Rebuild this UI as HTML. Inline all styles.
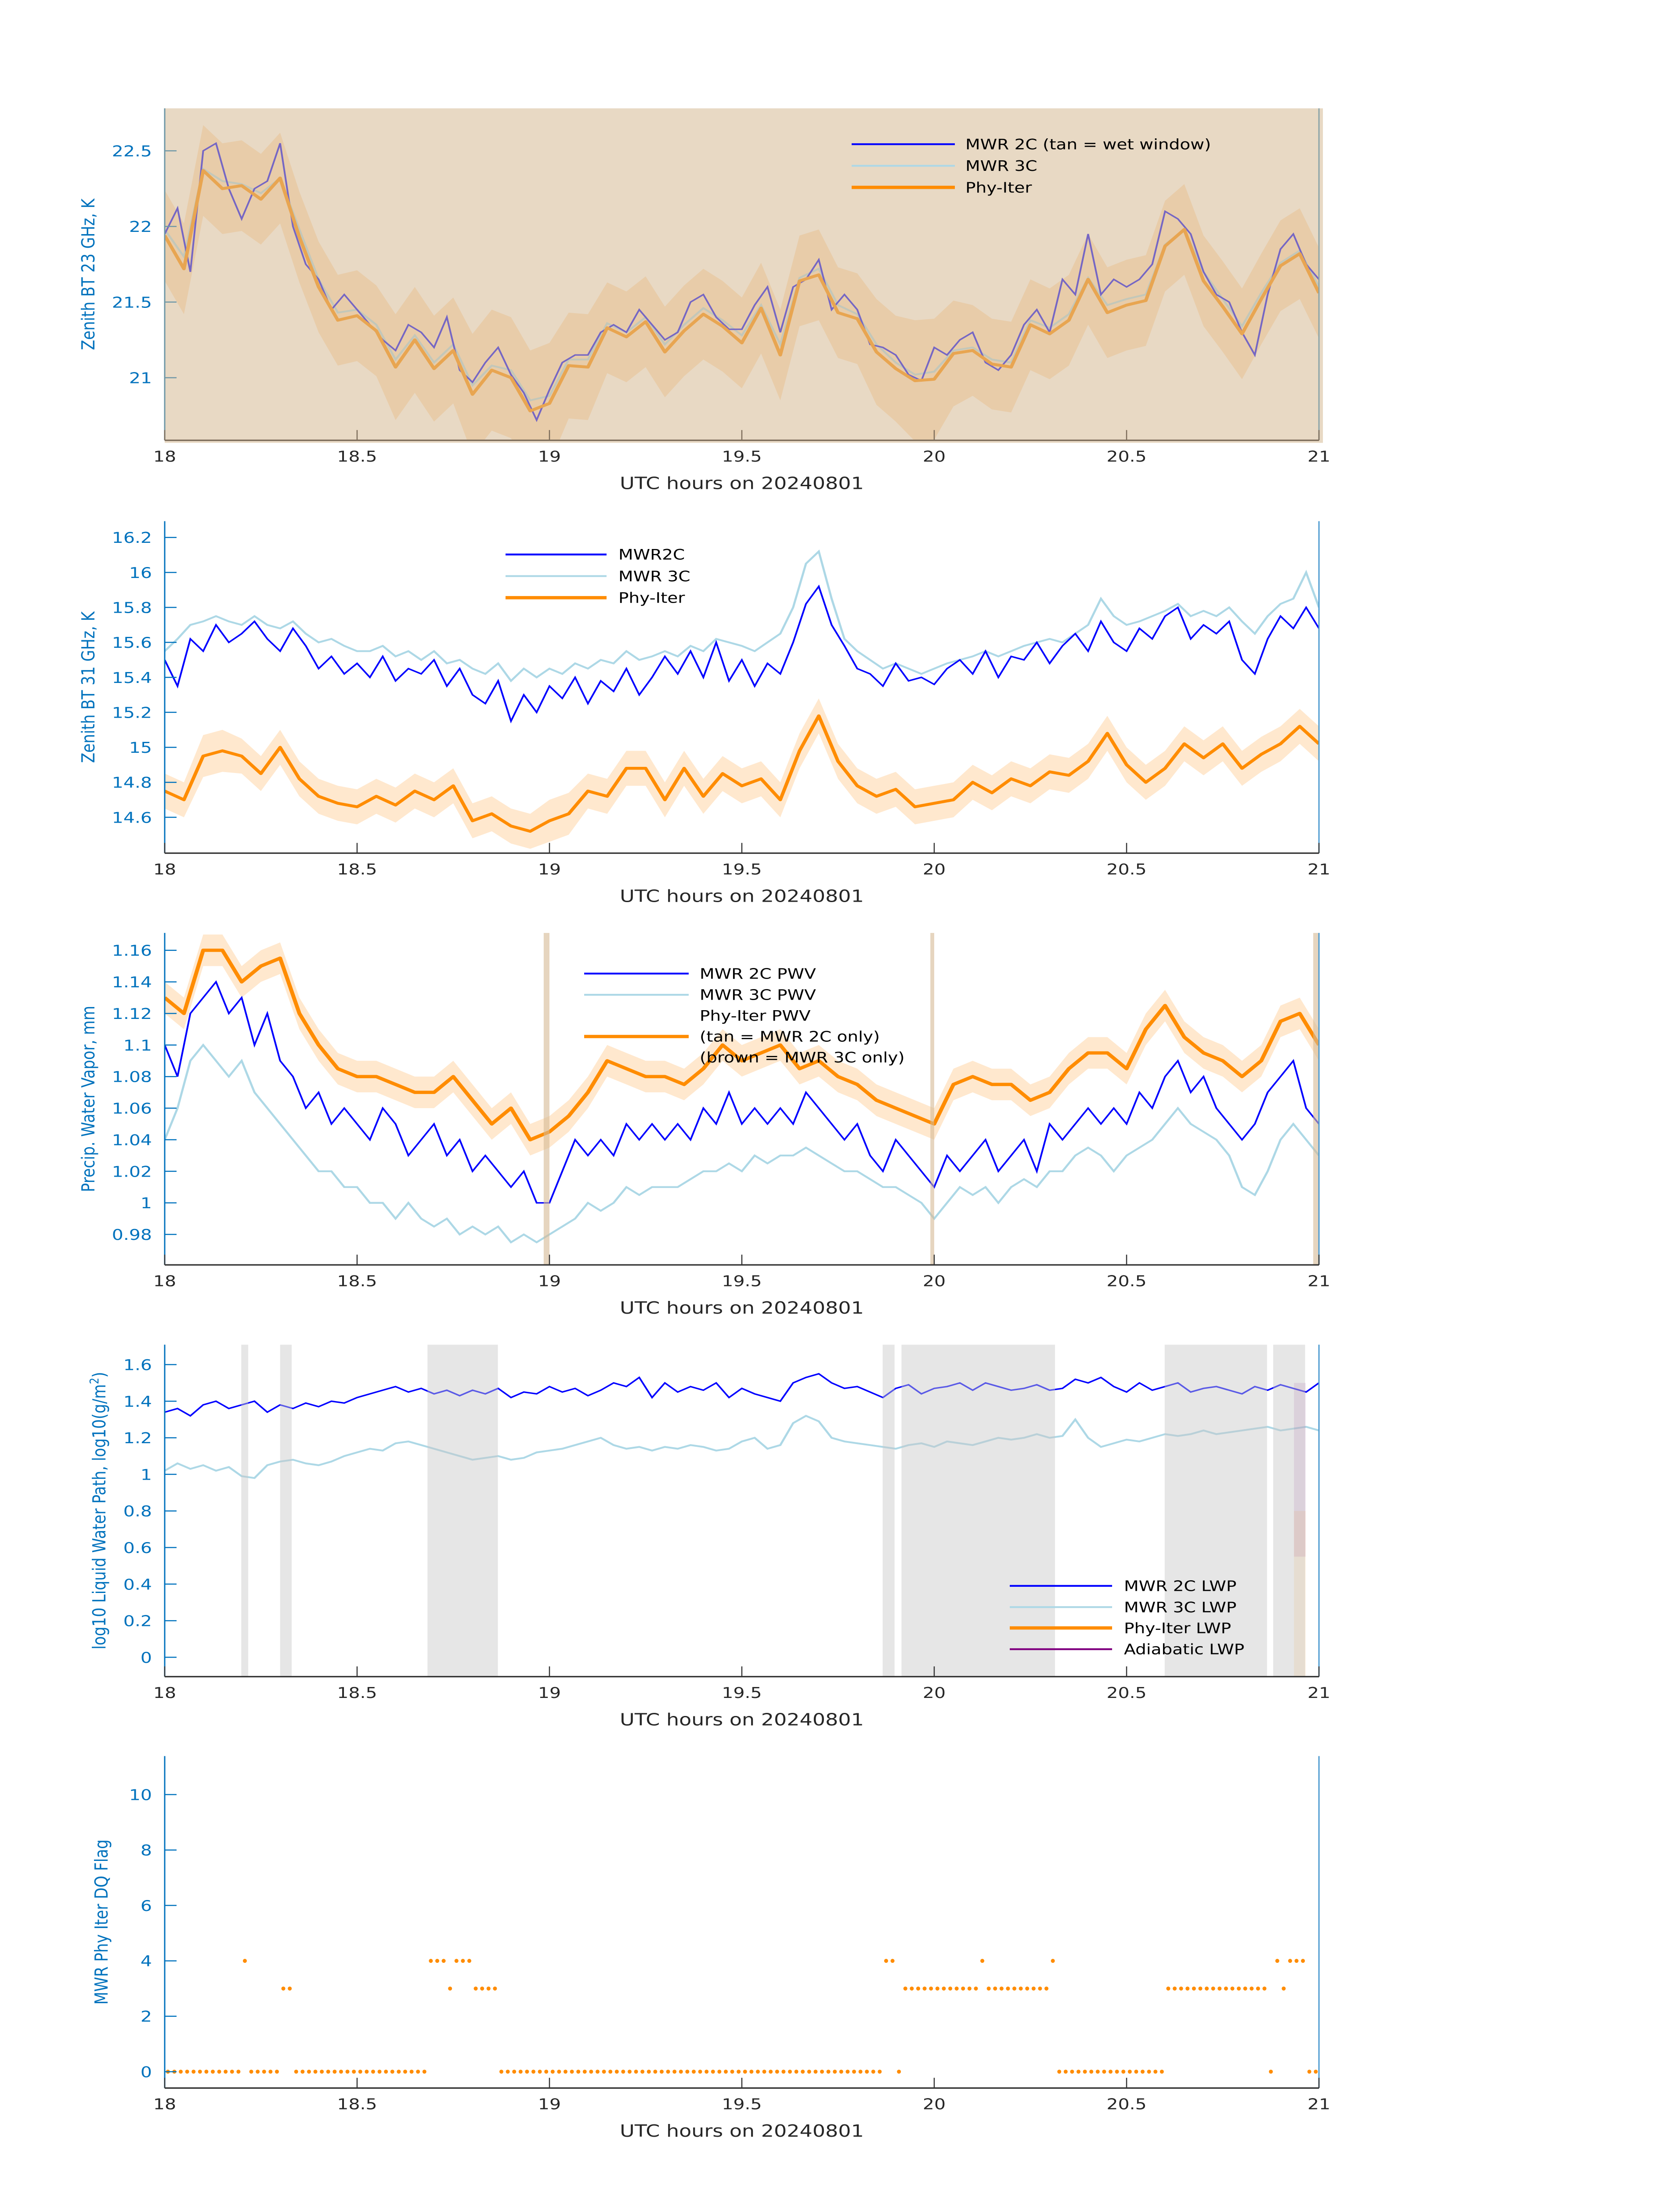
<!DOCTYPE html>
<html><head><meta charset="utf-8"><style>html,body{margin:0;padding:0;background:#fff;width:100%;height:100%;overflow:hidden}svg{display:block;position:absolute;left:0;top:0;width:100vw;height:100vh}</style></head>
<body>
<svg id="fig" xmlns="http://www.w3.org/2000/svg" viewBox="0 0 3825 6000" preserveAspectRatio="none" font-family="'DejaVu Sans','Liberation Sans',sans-serif"></svg>
<script>
// ---------- data ----------
const xTicks = [18, 18.5, 19, 19.5, 20, 20.5, 21];
const p1Ticks = [21, 21.5, 22, 22.5];
const p2Ticks = [14.6, 14.8, 15, 15.2, 15.4, 15.6, 15.8, 16, 16.2];
const p3Ticks = [0.98, 1, 1.02, 1.04, 1.06, 1.08, 1.1, 1.12, 1.14, 1.16];
const p4Ticks = [0, 0.2, 0.4, 0.6, 0.8, 1, 1.2, 1.4, 1.6];
const p5Ticks = [0, 2, 4, 6, 8, 10];

const p1Phy = [21.94,21.72,22.37,22.25,22.27,22.18,22.32,21.93,21.60,21.38,21.41,21.31,21.07,21.25,21.06,21.18,20.89,21.05,21.0,20.78,20.83,21.08,21.07,21.33,21.27,21.37,21.17,21.31,21.42,21.34,21.23,21.46,21.15,21.64,21.68,21.43,21.39,21.17,21.06,20.98,20.99,21.16,21.18,21.09,21.07,21.35,21.29,21.38,21.65,21.43,21.48,21.51,21.87,21.98,21.64,21.47,21.29,21.52,21.74,21.82,21.56];
const p1Unc = [0.3,0.3,0.3,0.3,0.3,0.3,0.3,0.3,0.3,0.3,0.3,0.3,0.35,0.35,0.35,0.35,0.4,0.4,0.4,0.4,0.4,0.35,0.35,0.3,0.3,0.3,0.3,0.3,0.3,0.3,0.3,0.3,0.3,0.3,0.3,0.3,0.3,0.35,0.35,0.4,0.4,0.35,0.3,0.3,0.3,0.3,0.3,0.3,0.3,0.3,0.3,0.3,0.3,0.3,0.3,0.3,0.3,0.3,0.3,0.3,0.3];
const p1Mwr2c = [21.95,22.12,21.70,22.50,22.55,22.25,22.05,22.25,22.30,22.55,22.0,21.75,21.65,21.45,21.55,21.45,21.35,21.25,21.18,21.35,21.30,21.20,21.40,21.05,20.97,21.10,21.20,21.02,20.90,20.72,20.92,21.10,21.15,21.15,21.30,21.35,21.30,21.45,21.35,21.25,21.30,21.50,21.55,21.40,21.32,21.32,21.48,21.60,21.30,21.60,21.65,21.78,21.45,21.55,21.45,21.22,21.20,21.15,21.02,20.98,21.20,21.15,21.25,21.30,21.10,21.05,21.15,21.35,21.45,21.30,21.65,21.55,21.95,21.55,21.65,21.60,21.65,21.75,22.10,22.05,21.95,21.70,21.55,21.50,21.30,21.15,21.55,21.85,21.95,21.75,21.65];
const p1Mwr3c = [21.98,21.80,22.38,22.30,22.28,22.22,22.32,21.98,21.65,21.43,21.45,21.35,21.12,21.28,21.10,21.22,20.95,21.08,21.05,20.85,20.88,21.12,21.12,21.36,21.30,21.40,21.22,21.35,21.46,21.38,21.28,21.48,21.22,21.66,21.72,21.48,21.42,21.22,21.10,21.02,21.04,21.18,21.20,21.12,21.10,21.38,21.33,21.42,21.66,21.48,21.52,21.55,21.88,21.98,21.70,21.52,21.34,21.56,21.76,21.84,21.60];

const p2Phy = [14.75,14.70,14.95,14.98,14.95,14.85,15.0,14.82,14.72,14.68,14.66,14.72,14.67,14.75,14.70,14.78,14.58,14.62,14.55,14.52,14.58,14.62,14.75,14.72,14.88,14.88,14.70,14.88,14.72,14.85,14.78,14.82,14.70,14.98,15.18,14.92,14.78,14.72,14.76,14.66,14.68,14.70,14.80,14.74,14.82,14.78,14.86,14.84,14.92,15.08,14.90,14.80,14.88,15.02,14.94,15.02,14.88,14.96,15.02,15.12,15.02];
const p2Unc = [0.1,0.1,0.12,0.12,0.1,0.1,0.1,0.1,0.1,0.1,0.1,0.1,0.1,0.1,0.1,0.1,0.1,0.1,0.1,0.1,0.12,0.12,0.1,0.1,0.1,0.1,0.1,0.1,0.1,0.1,0.1,0.1,0.1,0.1,0.1,0.1,0.1,0.1,0.1,0.1,0.1,0.1,0.1,0.1,0.1,0.1,0.1,0.1,0.1,0.1,0.1,0.1,0.1,0.1,0.1,0.1,0.1,0.1,0.1,0.1,0.1];
const p2Mwr2c = [15.5,15.35,15.62,15.55,15.7,15.6,15.65,15.72,15.62,15.55,15.68,15.58,15.45,15.52,15.42,15.48,15.4,15.52,15.38,15.45,15.42,15.5,15.35,15.45,15.3,15.25,15.38,15.15,15.3,15.2,15.35,15.28,15.4,15.25,15.38,15.32,15.45,15.3,15.4,15.52,15.42,15.55,15.4,15.6,15.38,15.5,15.35,15.48,15.42,15.6,15.82,15.92,15.7,15.58,15.45,15.42,15.35,15.48,15.38,15.4,15.36,15.45,15.5,15.42,15.55,15.4,15.52,15.5,15.6,15.48,15.58,15.65,15.55,15.72,15.6,15.55,15.68,15.62,15.75,15.8,15.62,15.7,15.65,15.72,15.5,15.42,15.62,15.75,15.68,15.8,15.68];
const p2Mwr3c = [15.55,15.62,15.7,15.72,15.75,15.72,15.7,15.75,15.7,15.68,15.72,15.65,15.6,15.62,15.58,15.55,15.55,15.58,15.52,15.55,15.5,15.55,15.48,15.5,15.45,15.42,15.48,15.38,15.45,15.4,15.45,15.42,15.48,15.45,15.5,15.48,15.55,15.5,15.52,15.55,15.52,15.58,15.55,15.62,15.6,15.58,15.55,15.6,15.65,15.8,16.05,16.12,15.85,15.62,15.55,15.5,15.45,15.48,15.45,15.42,15.45,15.48,15.5,15.52,15.55,15.52,15.55,15.58,15.6,15.62,15.6,15.65,15.7,15.85,15.75,15.7,15.72,15.75,15.78,15.82,15.75,15.78,15.75,15.8,15.72,15.65,15.75,15.82,15.85,16.0,15.8];

const p3Phy = [1.13,1.12,1.16,1.16,1.14,1.15,1.155,1.12,1.10,1.085,1.08,1.08,1.075,1.07,1.07,1.08,1.065,1.05,1.06,1.04,1.045,1.055,1.07,1.09,1.085,1.08,1.08,1.075,1.085,1.10,1.09,1.095,1.10,1.085,1.09,1.08,1.075,1.065,1.06,1.055,1.05,1.075,1.08,1.075,1.075,1.065,1.07,1.085,1.095,1.095,1.085,1.11,1.125,1.105,1.095,1.09,1.08,1.09,1.115,1.12,1.10];
const p3Unc = [0.01,0.01,0.01,0.01,0.01,0.01,0.01,0.01,0.01,0.01,0.01,0.01,0.01,0.01,0.01,0.01,0.01,0.01,0.01,0.01,0.01,0.01,0.01,0.01,0.01,0.01,0.01,0.01,0.01,0.01,0.01,0.01,0.01,0.01,0.01,0.01,0.01,0.01,0.01,0.01,0.01,0.01,0.01,0.01,0.01,0.01,0.01,0.01,0.01,0.01,0.01,0.01,0.01,0.01,0.01,0.01,0.01,0.01,0.01,0.01,0.01];
const p3Mwr2c = [1.10,1.08,1.12,1.13,1.14,1.12,1.13,1.10,1.12,1.09,1.08,1.06,1.07,1.05,1.06,1.05,1.04,1.06,1.05,1.03,1.04,1.05,1.03,1.04,1.02,1.03,1.02,1.01,1.02,1.0,1.0,1.02,1.04,1.03,1.04,1.03,1.05,1.04,1.05,1.04,1.05,1.04,1.06,1.05,1.07,1.05,1.06,1.05,1.06,1.05,1.07,1.06,1.05,1.04,1.05,1.03,1.02,1.04,1.03,1.02,1.01,1.03,1.02,1.03,1.04,1.02,1.03,1.04,1.02,1.05,1.04,1.05,1.06,1.05,1.06,1.05,1.07,1.06,1.08,1.09,1.07,1.08,1.06,1.05,1.04,1.05,1.07,1.08,1.09,1.06,1.05];
const p3Mwr3c = [1.04,1.06,1.09,1.10,1.09,1.08,1.09,1.07,1.06,1.05,1.04,1.03,1.02,1.02,1.01,1.01,1.00,1.0,0.99,1.0,0.99,0.985,0.99,0.98,0.985,0.98,0.985,0.975,0.98,0.975,0.98,0.985,0.99,1.0,0.995,1.0,1.01,1.005,1.01,1.01,1.01,1.015,1.02,1.02,1.025,1.02,1.03,1.025,1.03,1.03,1.035,1.03,1.025,1.02,1.02,1.015,1.01,1.01,1.005,1.0,0.99,1.0,1.01,1.005,1.01,1.0,1.01,1.015,1.01,1.02,1.02,1.03,1.035,1.03,1.02,1.03,1.035,1.04,1.05,1.06,1.05,1.045,1.04,1.03,1.01,1.005,1.02,1.04,1.05,1.04,1.03];
const p3TanStart = [18.985, 19.99, 20.985];
const p3TanEnd = [19.0, 20.0, 21.0];

const p4Mwr2c = [1.34,1.36,1.32,1.38,1.40,1.36,1.38,1.40,1.34,1.38,1.36,1.39,1.37,1.40,1.39,1.42,1.44,1.46,1.48,1.45,1.47,1.44,1.46,1.43,1.46,1.44,1.47,1.42,1.45,1.44,1.48,1.45,1.47,1.43,1.46,1.50,1.48,1.53,1.42,1.50,1.45,1.48,1.46,1.50,1.42,1.47,1.44,1.42,1.40,1.50,1.53,1.55,1.50,1.47,1.48,1.45,1.42,1.47,1.49,1.44,1.47,1.48,1.50,1.46,1.50,1.48,1.46,1.47,1.49,1.46,1.47,1.52,1.50,1.53,1.48,1.45,1.50,1.46,1.48,1.50,1.45,1.47,1.48,1.46,1.44,1.48,1.46,1.49,1.47,1.45,1.50];
const p4Mwr3c = [1.02,1.06,1.03,1.05,1.02,1.04,0.99,0.98,1.05,1.07,1.08,1.06,1.05,1.07,1.10,1.12,1.14,1.13,1.17,1.18,1.16,1.14,1.12,1.10,1.08,1.09,1.10,1.08,1.09,1.12,1.13,1.14,1.16,1.18,1.20,1.16,1.14,1.15,1.13,1.15,1.14,1.16,1.15,1.13,1.14,1.18,1.20,1.14,1.16,1.28,1.32,1.29,1.20,1.18,1.17,1.16,1.15,1.14,1.16,1.17,1.15,1.18,1.17,1.16,1.18,1.20,1.19,1.20,1.22,1.20,1.21,1.30,1.20,1.15,1.17,1.19,1.18,1.20,1.22,1.21,1.22,1.24,1.22,1.23,1.24,1.25,1.26,1.24,1.25,1.26,1.24];
const p4ShadeStart = [18.199, 18.30, 18.683, 19.866, 19.915, 20.599, 20.881];
const p4ShadeEnd = [18.217, 18.33, 18.866, 19.897, 20.314, 20.865, 20.964];

const dqFlag = [0,0,0,0,0,0,0,0,0,0,0,0,4,0,0,0,0,0,3,3,0,0,0,0,0,0,0,0,0,0,0,0,0,0,0,0,0,0,0,0,0,4,4,4,3,4,4,4,3,3,3,3,
0,0,0,0,0,0,0,0,0,0,0,0,0,0,0,0,0,0,0,0,0,0,0,0,0,0,0,0,0,0,0,0,0,0,0,0,0,0,0,0,0,0,0,0,0,0,0,0,0,0,0,0,0,0,0,0,0,0,0,0,
4,4,0,3,3,3,3,3,3,3,3,3,3,3,3,4,3,3,3,3,3,3,3,3,3,3,4,0,0,0,0,0,0,0,0,0,0,0,0,0,0,0,0,0,3,3,3,3,3,3,3,3,3,3,3,3,3,3,3,3,0,4,3,4,4,4,0,0];

// ---------- layout ----------
const NS = 'http://www.w3.org/2000/svg';
const svg = document.getElementById('fig');
const X0 = 375, X1 = 3003;
const xs = h => X0 + (h - 18) / 3 * (X1 - X0);
function el(tag, attrs, parent) {
  const e = document.createElementNS(NS, tag);
  for (const k in attrs) e.setAttribute(k, attrs[k]);
  (parent || svg).appendChild(e);
  return e;
}
function fmt(v) { return String(parseFloat(v.toFixed(3))); }
function times(arr) { return arr.map((_, i) => 18 + 3 * i / (arr.length - 1)); }
function linePath(arr, ys) {
  const t = times(arr);
  return arr.map((v, i) => (i ? 'L' : 'M') + xs(t[i]).toFixed(1) + ' ' + ys(v).toFixed(1)).join(' ');
}
function bandPath(arr, unc, ys) {
  const t = times(arr);
  let d = arr.map((v, i) => (i ? 'L' : 'M') + xs(t[i]).toFixed(1) + ' ' + ys(v + unc[i]).toFixed(1)).join(' ');
  for (let i = arr.length - 1; i >= 0; i--) d += ' L' + xs(t[i]).toFixed(1) + ' ' + ys(arr[i] - unc[i]).toFixed(1);
  return d + ' Z';
}

function makePanel(p) {
  const g = el('g', {});
  
  
  const ys = v => p.top + (p.ymax - v) / (p.ymax - p.ymin) * (p.bot - p.top);
  const cid = 'clip-' + p.name;
  const cp = el('clipPath', { id: cid }, g);
  el('rect', { x: X0, y: p.top, width: X1 - X0, height: p.bot - p.top }, cp);
  const plot = el('g', { 'clip-path': 'url(#' + cid + ')' }, g);
  
  
  p.draw(plot, ys);
  if (p.overlay) p.overlay(g, ys);
  const axc = p.axisColor || '#0072BD';
  const left = el('line', { x1: X0, y1: p.top, x2: X0, y2: p.bot, stroke: axc, 'stroke-width': 3 }, g);
  
  
  el('line', { x1: X1, y1: p.top, x2: X1, y2: p.bot, stroke: p.rightColor || '#4d9bd0', 'stroke-width': 3 }, g);
  const bot = el('line', { x1: X0, y1: p.bot, x2: X1, y2: p.bot, stroke: p.botColor || '#333', 'stroke-width': 4 }, g);
  
  
  xTicks.forEach(t => {
    el('line', { x1: xs(t), y1: p.bot, x2: xs(t), y2: p.bot - 28, stroke: p.botColor || '#333', 'stroke-width': 2.5 }, g);
    const tx = el('text', { x: xs(t), y: p.bot + 58, 'font-size': 41, fill: '#262626', 'text-anchor': 'middle' }, g);
    tx.textContent = fmt(t);
    
    
  });
  p.ticks.forEach(t => {
    const y = ys(t);
    el('line', { x1: X0, y1: y, x2: X0 + 27, y2: y, stroke: axc, 'stroke-width': 3 }, g);
    const tx = el('text', { x: 346, y: y + 15, 'font-size': 41, fill: '#0072BD', 'text-anchor': 'end' }, g);
    tx.textContent = fmt(t);
    
    
  });
  const xl = el('text', { x: (X0 + X1) / 2, y: p.bot + 133, 'font-size': 46, fill: '#262626', 'text-anchor': 'middle' }, g);
  xl.textContent = 'UTC hours on 20240801';
  
  
  const cy = (p.top + p.bot) / 2;
  const yl = el('text', { x: p.ylx, y: cy, 'font-size': 41, fill: '#0072BD', 'text-anchor': 'middle', transform: 'rotate(-90 ' + p.ylx + ' ' + cy + ')' }, g);
  
  
  if (p.ylabelSup) {
    yl.appendChild(document.createTextNode(p.ylabel));
    const s = el('tspan', { 'font-size': 28, dy: -16 }, yl);
    s.textContent = '2';
    const s2 = el('tspan', { dy: 16 }, yl);
    s2.textContent = ')';
  } else yl.textContent = p.ylabel;
  if (p.legend) {
    const lg = el('g', {}, g);
    
    
    p.legend.forEach(it => {
      if (it.color) el('line', { x1: p.lx1, y1: it.y, x2: p.lx2, y2: it.y, stroke: it.color, 'stroke-width': it.w }, lg);
      const tx = el('text', { x: p.ltx, y: it.y + 14, 'font-size': 39, fill: '#000' }, lg);
      tx.textContent = it.text;
      
      
    });
  }
  return ys;
}

makePanel({
  name: 'panel-bt23', top: 296, bot: 1203, ymin: 20.586, ymax: 22.781, ticks: p1Ticks, ylx: 215,
  ylabel: 'Zenith BT 23 GHz, K', axisColor: '#6e97a6', rightColor: '#8aa3a8', botColor: '#7c6c5a',
  draw: (g, ys) => {
    const b = el('path', { d: bandPath(p1Phy, p1Unc, ys), fill: 'rgba(255,150,40,0.28)', stroke: 'none' }, g);
     
    const l3 = el('path', { d: linePath(p1Mwr3c, ys), fill: 'none', stroke: '#ADD8E6', 'stroke-width': 5 }, g);
     
    const l2 = el('path', { d: linePath(p1Mwr2c, ys), fill: 'none', stroke: '#0000FF', 'stroke-width': 4 }, g);
     
    const lp = el('path', { d: linePath(p1Phy, ys), fill: 'none', stroke: '#FF8C00', 'stroke-width': 8, 'stroke-linejoin': 'round' }, g);
     
  },
  overlay: (g) => {
    const o = el('rect', { x: X0, y: 296, width: 3012 - X0, height: 1210 - 296, fill: 'rgb(214,185,148)', 'fill-opacity': 0.55 }, g);
     
  },
  lx1: 1939, lx2: 2174, ltx: 2198,
  legend: [{ y: 394, color: '#0000FF', w: 5, text: 'MWR 2C (tan = wet window)' }, { y: 453, color: '#ADD8E6', w: 5, text: 'MWR 3C' }, { y: 512, color: '#FF8C00', w: 9, text: 'Phy-Iter' }]
});

makePanel({
  name: 'panel-bt31', top: 1424, bot: 2331, ymin: 14.395, ymax: 16.293, ticks: p2Ticks, ylx: 215,
  ylabel: 'Zenith BT 31 GHz, K',
  draw: (g, ys) => {
    const b = el('path', { d: bandPath(p2Phy, p2Unc, ys), fill: 'rgba(255,165,60,0.25)', stroke: 'none' }, g);
     
    const l3 = el('path', { d: linePath(p2Mwr3c, ys), fill: 'none', stroke: '#ADD8E6', 'stroke-width': 5 }, g);
     
    const l2 = el('path', { d: linePath(p2Mwr2c, ys), fill: 'none', stroke: '#0000FF', 'stroke-width': 4 }, g);
     
    const lp = el('path', { d: linePath(p2Phy, ys), fill: 'none', stroke: '#FF8C00', 'stroke-width': 8, 'stroke-linejoin': 'round' }, g);
     
  },
  lx1: 1151, lx2: 1381, ltx: 1408,
  legend: [{ y: 1515, color: '#0000FF', w: 5, text: 'MWR2C' }, { y: 1574, color: '#ADD8E6', w: 5, text: 'MWR 3C' }, { y: 1633, color: '#FF8C00', w: 9, text: 'Phy-Iter' }]
});

makePanel({
  name: 'panel-pwv', top: 2549, bot: 3456, ymin: 0.9607, ymax: 1.171, ticks: p3Ticks, ylx: 215,
  ylabel: 'Precip. Water Vapor, mm',
  draw: (g, ys) => {
    const b = el('path', { d: bandPath(p3Phy, p3Unc, ys), fill: 'rgba(255,165,60,0.25)', stroke: 'none' }, g);
     
    const l3 = el('path', { d: linePath(p3Mwr3c, ys), fill: 'none', stroke: '#ADD8E6', 'stroke-width': 5 }, g);
     
    const l2 = el('path', { d: linePath(p3Mwr2c, ys), fill: 'none', stroke: '#0000FF', 'stroke-width': 4 }, g);
     
    const lp = el('path', { d: linePath(p3Phy, ys), fill: 'none', stroke: '#FF8C00', 'stroke-width': 9, 'stroke-linejoin': 'round' }, g);
     
  },
  overlay: (g) => {
    p3TanStart.forEach((s, i) => {
      const r = el('rect', { x: xs(s), y: 2549, width: Math.max(6, xs(p3TanEnd[i]) - xs(s)), height: 907, fill: 'rgb(214,185,148)', 'fill-opacity': 0.6 }, g);
      
      
    });
  },
  lx1: 1330, lx2: 1568, ltx: 1593,
  legend: [{ y: 2660, color: '#0000FF', w: 5, text: 'MWR 2C PWV' }, { y: 2718, color: '#ADD8E6', w: 5, text: 'MWR 3C PWV' }, { y: 2775, text: 'Phy-Iter PWV' }, { y: 2832, color: '#FF8C00', w: 9, text: '(tan = MWR 2C only)' }, { y: 2889, text: '(brown = MWR 3C only)' }]
});

makePanel({
  name: 'panel-lwp', top: 3674, bot: 4581, ymin: -0.106, ymax: 1.709, ticks: p4Ticks, ylx: 240,
  ylabel: 'log10 Liquid Water Path, log10(g/m', ylabelSup: true,
  draw: (g, ys) => {
    const l3 = el('path', { d: linePath(p4Mwr3c, ys), fill: 'none', stroke: '#ADD8E6', 'stroke-width': 5 }, g);
     
    const l2 = el('path', { d: linePath(p4Mwr2c, ys), fill: 'none', stroke: '#0000FF', 'stroke-width': 4 }, g);
     
    const a1 = el('rect', { x: xs(20.935), y: ys(1.5), width: xs(20.965) - xs(20.935), height: ys(0.55) - ys(1.5), fill: 'rgba(128,0,128,0.15)' }, g);
     
    const a2 = el('rect', { x: xs(20.935), y: ys(0.8), width: xs(20.965) - xs(20.935), height: ys(-0.12) - ys(0.8), fill: 'rgba(255,140,0,0.15)' }, g);
     
  },
  overlay: (g, ys) => {
    p4ShadeStart.forEach((s, i) => {
      const r = el('rect', { x: xs(s), y: 3674, width: xs(p4ShadeEnd[i]) - xs(s), height: 907, fill: 'rgb(200,200,200)', 'fill-opacity': 0.45 }, g);
      
      
    });
  },
  lx1: 2299, lx2: 2532, ltx: 2559,
  legend: [{ y: 4333, color: '#0000FF', w: 5, text: 'MWR 2C LWP' }, { y: 4391, color: '#ADD8E6', w: 5, text: 'MWR 3C LWP' }, { y: 4448, color: '#FF8C00', w: 9, text: 'Phy-Iter LWP' }, { y: 4506, color: '#800080', w: 5, text: 'Adiabatic LWP' }]
});

makePanel({
  name: 'panel-dq-flag', top: 4798, bot: 5705, ymin: -0.59, ymax: 11.39, ticks: p5Ticks, ylx: 245,
  ylabel: 'MWR Phy Iter DQ Flag',
  draw: (g, ys) => {
    dqFlag.forEach((v, i) => {
      const t = 18 + (i + 0.5) / 60;
      const d = el('ellipse', { cx: xs(t).toFixed(1), cy: ys(v).toFixed(1), rx: 4.5, ry: 5.5, fill: '#FF8C00' }, g);
      
      
    });
  }
});
</script>
</body></html>
